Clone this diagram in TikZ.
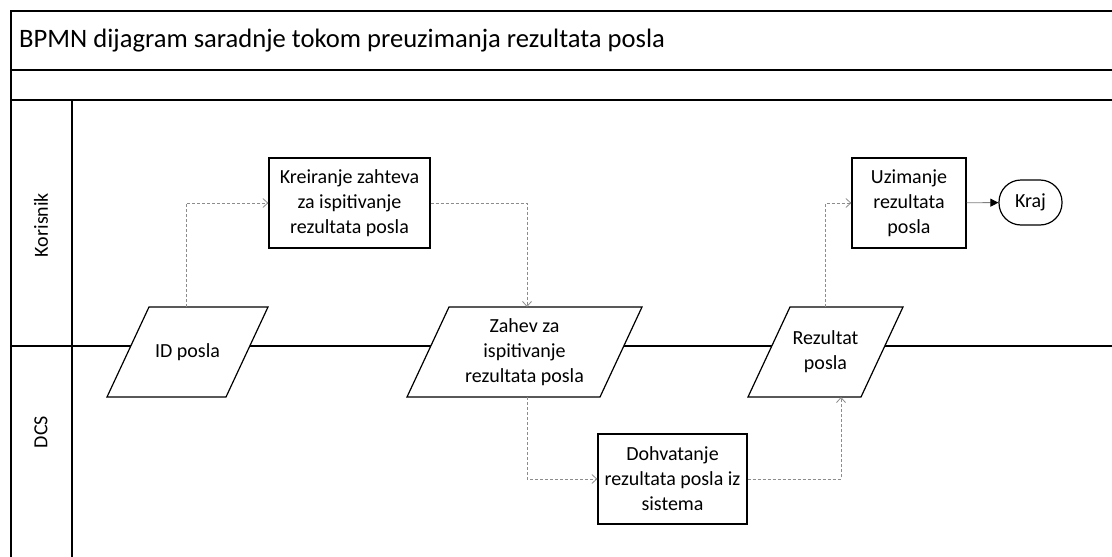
\documentclass[tikz,border=0pt]{standalone}
\usepackage{fontspec}
\setmainfont{Carlito}
\usetikzlibrary{arrows.meta}

\tikzset{
  lane/.style={draw=black, line width=1.3pt},
  task/.style={draw=black, line width=1.2pt, fill=white, rectangle,
    align=center, inner sep=2pt, font=\fontsize{20}{25}\selectfont},
  % data object: a slanted box drawn inside the node's rectangle
  dataobj/.style={rectangle, minimum height=94pt, outer sep=-2pt, inner sep=1pt,
    align=center, font=\fontsize{20}{25}\selectfont,
    path picture={
      \draw[line width=1.2pt, fill=white]
        ([xshift=2pt, yshift=2pt]path picture bounding box.south west)
        -- ([xshift=-44pt, yshift=2pt]path picture bounding box.south east)
        -- ([xshift=-2pt, yshift=-2pt]path picture bounding box.north east)
        -- ([xshift=44pt, yshift=-2pt]path picture bounding box.north west)
        -- cycle;
    }},
  endevent/.style={draw=black, line width=1.2pt, fill=white, rectangle,
    rounded corners=22pt, minimum width=63pt, minimum height=45pt,
    font=\fontsize{20}{25}\selectfont},
  msgflow/.style={draw=black!45, line width=0.8pt, dash pattern=on 3pt off 2pt,
    -{Straight Barb[length=5pt,width=9pt,line width=0.8pt]}},
  seqflow/.style={draw=black!50, line width=0.9pt,
    -{Triangle[length=8pt,width=8pt,fill=black,color=black]}},
  lanelabel/.style={rotate=90, font=\fontsize{20}{25}\selectfont}
}

\begin{document}
\begin{tikzpicture}[x=1pt, y=-1pt]
  \useasboundingbox (0,0) rectangle (1112,557);

  % pool frame, title bar and lanes
  \draw[lane] (1112,11) -- (11,11) -- (11,557);
  \draw[lane] (11,70) -- (1112,70);
  \draw[lane] (11,100) -- (1112,100);
  \draw[lane] (72,100) -- (72,557);
  \draw[lane] (11,346) -- (1112,346);

  \node[anchor=west, font=\fontsize{26.6}{30}\selectfont, inner sep=0pt] (title) at (19,41)
    {BPMN dijagram saradnje tokom preuzimanja rezultata posla};
  \node[lanelabel] (lk) at (41,225) {Korisnik};
  \node[lanelabel] (ld) at (41,432) {DCS};

  % tasks
  \node[task, minimum width=161pt, minimum height=90pt] (kre) at (349.5,203)
    {Kreiranje zahteva\\za ispitivanje\\rezultata posla};
  \node[task, minimum width=114pt, minimum height=90pt] (uzi) at (909,203)
    {Uzimanje\\rezultata\\posla};
  \node[task, minimum width=149pt, minimum height=90pt] (doh) at (672.5,479)
    {Dohvatanje\\rezultata posla iz\\sistema};
  \node[endevent] (kraj) at (1030.5,202.5) {Kraj};

  % data objects
  \node[dataobj, minimum width=165pt] (id) at (187.5,352) {ID posla};
  \node[dataobj, minimum width=239pt] (zah) at (524.5,352)
    {Zahev za\\ispitivanje\\rezultata posla};
  \node[dataobj, minimum width=159pt] (rez) at (825.5,352) {Rezultat\\posla};

  % flows
  \draw[msgflow] ([xshift=-1.5pt]id.north) |- (kre.west);
  \draw[msgflow] (kre.east) -| ([xshift=2.5pt]zah.north);
  \draw[msgflow] ([xshift=2.5pt]zah.south) |- (doh.west);
  \draw[msgflow] (doh.east) -| ([xshift=15.5pt]rez.south);
  \draw[msgflow] (rez.north) |- (uzi.west);
  \draw[seqflow] (uzi) -- (kraj);
\end{tikzpicture}
\end{document}
